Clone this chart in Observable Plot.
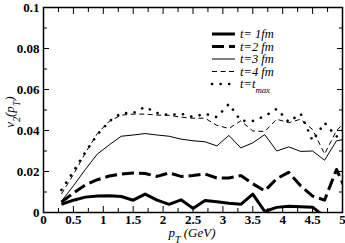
<!DOCTYPE html>
<html><head><meta charset="utf-8">
<script src="https://cdn.jsdelivr.net/npm/d3@7"></script>
<script src="https://cdn.jsdelivr.net/npm/@observablehq/plot@0.6"></script>
<style>body{margin:0;background:#fff} svg{display:block}</style>
</head><body><div id="chart"></div>
<script>
// pT grid (GeV)
const pT = [0.3,0.5,0.7,0.9,1.1,1.3,1.5,1.7,1.9,2.1,2.3,2.5,2.7,2.9,3.1,3.3,3.5,3.7,3.9,4.1,4.3,4.5,4.7,4.9,5.1];
// v2(pT) series
const v2_t1   = [0.004,0.006,0.0075,0.008,0.0082,0.0078,0.006,0.009,0.006,0.004,0.0062,0.002,0.0058,0.0052,0.0045,0.004,0.009,0.0005,0.0025,0.003,0.0028,0.0026,-0.002,-0.003,-0.003];
const v2_t2   = [0.005,0.0095,0.0135,0.016,0.0178,0.0188,0.0193,0.019,0.0176,0.0193,0.0176,0.018,0.0188,0.0168,0.0168,0.018,0.014,0.0105,0.0165,0.0196,0.013,0.008,0.006,0.021,0.008];
const v2_t3   = [0.0055,0.013,0.021,0.0285,0.033,0.0372,0.0378,0.0385,0.0378,0.0372,0.0358,0.035,0.0345,0.0325,0.0376,0.0315,0.034,0.038,0.030,0.032,0.0298,0.030,0.0255,0.035,0.036];
const v2_t4   = [0.009,0.0185,0.029,0.0385,0.0445,0.0475,0.048,0.048,0.0475,0.0474,0.0465,0.046,0.046,0.0425,0.041,0.0447,0.0398,0.0395,0.0455,0.0438,0.0455,0.0405,0.0285,0.040,0.046];
const v2_tmax = [0.011,0.020,0.0295,0.038,0.0445,0.0485,0.0485,0.0515,0.0485,0.0475,0.0482,0.0466,0.0482,0.0465,0.053,0.0447,0.0447,0.047,0.0506,0.0442,0.0482,0.035,0.0438,0.037,0.043];

const xMajor = [0,0.5,1,1.5,2,2.5,3,3.5,4,4.5,5];
const xMinor = [0.25,0.75,1.25,1.75,2.25,2.75,3.25,3.75,4.25,4.75];
const yMajor = [0,0.02,0.04,0.06,0.08,0.1];
const yMinor = [0.01,0.03,0.05,0.07,0.09];

const series = [
  {key: "t1",   values: v2_t1,   width: 3,   dash: null,   cap: "butt"},
  {key: "t2",   values: v2_t2,   width: 3,   dash: "12,5", cap: "butt"},
  {key: "t3",   values: v2_t3,   width: 1,   dash: null,   cap: "butt"},
  {key: "t4",   values: v2_t4,   width: 1,   dash: "5,3.5",cap: "butt"},
  {key: "tmax", values: v2_tmax, width: 2.6, dash: "0.1,8.5",cap: "round"}
];
const rows = series.flatMap(s => pT.map((x, i) => ({pT: x, v2: s.values[i], key: s.key})));

const FONT = "Liberation Serif, Times New Roman, Times, serif";
const noText = () => "";
const fmt = d => String(d);
const axisStyle = {fontWeight: "bold", fontSize: 13, fontFamily: FONT};

const chart = Plot.plot({
  width: 345, height: 243,
  marginLeft: 43, marginRight: 3, marginTop: 7, marginBottom: 31,
  style: {fontFamily: FONT, fontSize: "13px", color: "black", background: "white"},
  x: {domain: [0, 5]},
  y: {domain: [0, 0.1]},
  marks: [
    ...series.map(s => Plot.line(rows.filter(r => r.key === s.key), {
      x: "pT", y: "v2", stroke: "black", strokeWidth: s.width,
      strokeDasharray: s.dash, strokeLinecap: s.cap, strokeLinejoin: "round", clip: true
    })),
    Plot.axisX(xMajor, {anchor: "bottom", tickSize: -6, tickPadding: 8, tickFormat: fmt, label: null, ...axisStyle}),
    Plot.axisX(xMinor, {anchor: "bottom", tickSize: -4, tickFormat: noText, label: null}),
    Plot.axisX(xMajor, {anchor: "top", tickSize: -6, tickFormat: noText, label: null}),
    Plot.axisX(xMinor, {anchor: "top", tickSize: -4, tickFormat: noText, label: null}),
    Plot.axisY(yMajor, {anchor: "left", tickSize: -6, tickPadding: 10, tickFormat: fmt, label: null, ...axisStyle}),
    Plot.axisY(yMinor, {anchor: "left", tickSize: -4, tickFormat: noText, label: null}),
    Plot.axisY(yMajor, {anchor: "right", tickSize: -6, tickFormat: noText, label: null}),
    Plot.axisY(yMinor, {anchor: "right", tickSize: -4, tickFormat: noText, label: null}),
    Plot.frame({stroke: "black", strokeWidth: 1.5})
  ]
});
document.getElementById("chart").appendChild(chart);

// Axis titles and legend (text with sub-scripts)
const svg = d3.select(chart);
function addText(g, parts, attrs) {
  const t = g.append("text").attr("font-style", "italic").attr("font-family", FONT)
    .attr("font-size", attrs.size || 13).attr("text-anchor", "start").attr("fill", "black");
  Object.entries(attrs).forEach(([k, v]) => { if (k !== "size") t.attr(k, v); });
  parts.forEach(p => {
    const ts = t.append("tspan").text(p.t);
    if (p.sub) ts.attr("baseline-shift", "sub").attr("font-size", p.subSize || "75%");
  });
  return t;
}
addText(svg, [{t: "p"}, {t: "T", sub: true}, {t: " (GeV)"}], {x: 192, y: 237, "text-anchor": "middle", size: 13});
addText(svg, [{t: "v"}, {t: "2", sub: true}, {t: "(p"}, {t: "T", sub: true}, {t: ")"}], {"text-anchor": "middle", transform: "translate(14,112) rotate(-90)", size: 13});

const legendLabels = [
  [{t: "t= 1fm"}],
  [{t: "t=2 fm"}],
  [{t: "t=3 fm"}],
  [{t: "t=4 fm"}],
  [{t: "t=t"}, {t: "max", sub: true, subSize: "70%"}]
];
const lg = svg.append("g");
series.forEach((s, i) => {
  const y = 34 + i * 12.5;
  lg.append("line").attr("x1", 212).attr("x2", 235).attr("y1", y).attr("y2", y)
    .attr("stroke", "black").attr("stroke-width", s.width)
    .attr("stroke-dasharray", s.dash).attr("stroke-linecap", s.cap);
  addText(lg, legendLabels[i], {x: 240, y: y + 4, size: 12.5});
});
</script></body></html>
